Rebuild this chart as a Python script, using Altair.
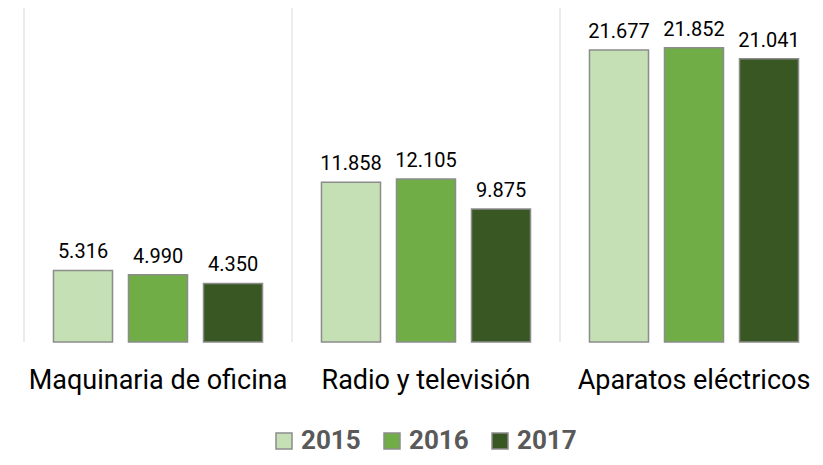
import altair as alt
import pandas as pd

categories = ["Maquinaria de oficina", "Radio y televisión", "Aparatos eléctricos"]
years = ["2015", "2016", "2017"]
values_2015 = [5.316, 11.858, 21.677]
values_2016 = [4.990, 12.105, 21.852]
values_2017 = [4.350, 9.875, 21.041]
colors = ["#c5e0b4", "#70ad47", "#385723"]

rows = []
for i, c in enumerate(categories):
    for y, vals in zip(years, [values_2015, values_2016, values_2017]):
        rows.append({"cat": c, "year": y, "value": vals[i], "label": f"{vals[i]:.3f}"})
df = pd.DataFrame(rows)
sep = pd.DataFrame({"cat": categories})

xscale = alt.Scale(domain=categories, range=[0, 804], paddingInner=0, paddingOuter=0)
xoff = alt.XOffset("year:N", sort=years,
                   scale=alt.Scale(paddingInner=0.213, paddingOuter=0.393))
yscale = alt.Scale(domain=[0, 24.8], nice=False)

rules = alt.Chart(sep).mark_rule(color="#d9d9d9", strokeWidth=1).encode(
    x=alt.X("cat:N", scale=xscale, bandPosition=0, axis=None),
    y=alt.value(0),
    y2=alt.value(334),
)

bars = alt.Chart(df).mark_bar(stroke="#8c8c8c", strokeWidth=1.5).encode(
    x=alt.X("cat:N", scale=xscale,
            axis=alt.Axis(title=None, labelAngle=0, ticks=False, tickSize=0, domain=False,
                          grid=False, labelFont="Roboto", labelFontSize=27, labelLimit=0,
                          labelColor="#000000", labelPadding=25)),
    xOffset=xoff,
    y=alt.Y("value:Q", scale=yscale, axis=None),
    color=alt.Color("year:N", scale=alt.Scale(domain=years, range=colors),
                    legend=alt.Legend(orient="none", legendX=247, legendY=420,
                                      direction="horizontal", title=None,
                                      symbolType="square", symbolSize=256,
                                      symbolStrokeColor="#8c8c8c", symbolStrokeWidth=1.5,
                                      labelFont="Roboto", labelFontSize=26,
                                      labelFontWeight="bold", labelColor="#595959",
                                      labelOffset=4, columnPadding=18, padding=0)),
)

labels = alt.Chart(df).mark_text(font="Roboto", fontSize=20, dy=-12,
                                 baseline="alphabetic", color="#000000").encode(
    x=alt.X("cat:N", scale=xscale, axis=None),
    xOffset=xoff,
    y=alt.Y("value:Q", scale=yscale, axis=None),
    text="label:N",
)

chart = alt.layer(rules, bars, labels).resolve_scale(x="independent").properties(
    width=784, height=334,
    autosize=alt.AutoSizeParams(type="none"),
    padding={"left": 16, "top": 0, "right": 7, "bottom": 115},
).configure_view(stroke=None)

chart.save("out.html", embed_options={"renderer": "svg", "actions": False})
